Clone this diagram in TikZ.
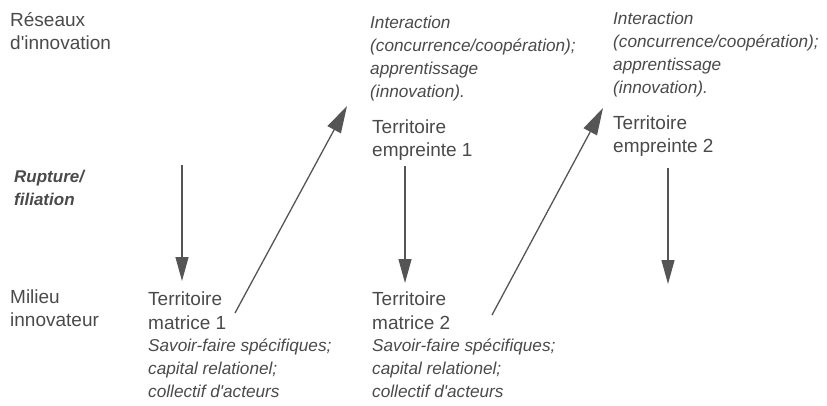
\documentclass[tikz,border=0pt]{standalone}
\usepackage{fontspec}
\setmainfont{Liberation Sans}[Ligatures=TeXOff]
\usetikzlibrary{arrows.meta}
\definecolor{txt}{HTML}{4A4A4A}
\definecolor{arr}{HTML}{555555}
\begin{document}
\begin{tikzpicture}[x=1pt,y=-1pt,
  lbl/.style={anchor=north west,inner sep=0pt,align=left,text=txt,font=\fontsize{19}{23.5}\selectfont},
  itl/.style={anchor=north west,inner sep=0pt,align=left,text=txt,font=\fontsize{17.2}{22.8}\selectfont\itshape},
  bit/.style={anchor=north west,inner sep=0pt,align=left,text=txt,font=\fontsize{17}{23}\selectfont\bfseries\itshape},
  varrow/.style={draw=arr,line width=1.3pt,-{Triangle[length=24pt,width=13pt]},arr},
  darrow/.style={draw=arr,line width=1.3pt,-{Triangle[length=27pt,width=15pt]},arr}]
\useasboundingbox (0,0) rectangle (827,406);
% left labels
\node[lbl] (res) at (10,12) {Réseaux\\d'innovation};
\node[bit] (rup) at (14,170) {Rupture/\\filiation};
\node[lbl] (mil) at (10,289.5) {Milieu\\innovateur};
% column 1
\node[lbl] (tm1) at (148,292) {Territoire\\matrice 1};
\node[itl] (sf1) at (148,339) {Savoir-faire spécifiques;\\capital relationel;\\collectif d'acteurs};
% column 2
\node[itl] (in1) at (370,16) {Interaction\\(concurrence/coopération);\\apprentissage\\(innovation).};
\node[lbl] (te1) at (372,119.5) {Territoire\\empreinte 1};
\node[lbl] (tm2) at (372,292) {Territoire\\matrice 2};
\node[itl] (sf2) at (372,339) {Savoir-faire spécifiques;\\capital relationel;\\collectif d'acteurs};
% column 3
\node[itl] (in2) at (613,12) {Interaction\\(concurrence/coopération);\\apprentissage\\(innovation).};
\node[lbl] (te2) at (613,115.5) {Territoire\\empreinte 2};
% arrow end points
\coordinate (a1s) at (182,165);
\coordinate (a1e) at (182,281);
\coordinate (d1s) at (235,313);
\coordinate (d1e) at (347,106);
\coordinate (a2s) at (405,166);
\coordinate (a2e) at (405,283);
\coordinate (d2s) at (492,315);
\coordinate (d2e) at (603,108);
\coordinate (a3s) at (668,168);
\coordinate (a3e) at (668,284);
\draw[varrow] (a1s) -- (a1e);
\draw[darrow] (d1s) -- (d1e);
\draw[varrow] (a2s) -- (a2e);
\draw[darrow] (d2s) -- (d2e);
\draw[varrow] (a3s) -- (a3e);
\end{tikzpicture}
\end{document}
